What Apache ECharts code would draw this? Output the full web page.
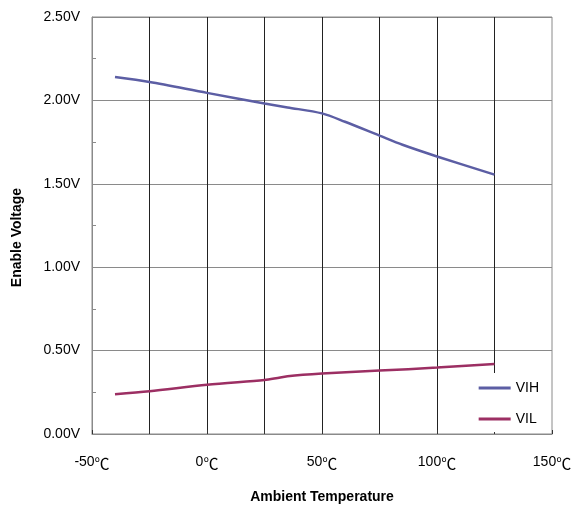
<!DOCTYPE html>
<html>
<head>
<meta charset="utf-8">
<script src="https://cdn.jsdelivr.net/npm/echarts@6/dist/echarts.min.js"></script>
<style>html,body{margin:0;padding:0;background:#fff}#c{width:578px;height:511px}</style>
</head>
<body>
<div id="c"></div>
<script>
var temps   = [-40, -25, 0, 25, 35, 50, 60, 75, 85, 100, 125];
var vihVals = [2.14, 2.11, 2.045, 1.982, 1.958, 1.922, 1.872, 1.789, 1.734, 1.664, 1.555];
var vilTemps = [-40, -25, 0, 25, 30, 35, 50, 75, 100, 125];
var vilVals  = [0.238, 0.256, 0.295, 0.324, 0.334, 0.346, 0.362, 0.380, 0.398, 0.420];
var xTickLabels = {'-50':'-50','0':'0','50':'50','100':'100','150':'150'};
var yTickLabels = {'0':'0.00V','0.5':'0.50V','1':'1.00V','1.5':'1.50V','2':'2.00V','2.5':'2.50V'};

function pairs(xs, ys){ return xs.map(function(x,i){ return [x, ys[i]]; }); }

var chart = echarts.init(document.getElementById('c'));
chart.setOption({
  animation: false,
  textStyle: { fontFamily: 'Liberation Sans, Arial, sans-serif' },
  grid: { left: 92, right: 26, top: 17, bottom: 77, show: true, borderColor: '#8a8a8a', borderWidth: 1 },
  xAxis: {
    type: 'value', min: -50, max: 150, interval: 25,
    name: 'Ambient Temperature', nameLocation: 'middle', nameGap: 56,
    nameTextStyle: { fontWeight: 'bold', fontSize: 14, color: '#000' },
    axisLine: { onZero: false, lineStyle: { color: '#8a8a8a' } },
    axisTick: { show: true, inside: true, length: 4, lineStyle: { color: '#333' } },
    axisLabel: { margin: 19, fontSize: 14, color: '#000',
      formatter: function(v){ var t = xTickLabels[String(v)]; return t ? t + '{c|℃}' : ''; },
      rich: { c: { fontFamily: 'Noto Sans CJK SC', fontSize: 15, color: '#000', padding: [3, 0, 0, 0] } } },
    splitLine: { show: true, showMinLine: false, showMaxLine: false, lineStyle: { color: '#222', width: 1 } }
  },
  yAxis: {
    type: 'value', min: 0, max: 2.5, interval: 0.5,
    name: 'Enable Voltage', nameLocation: 'middle', nameGap: 68,
    nameTextStyle: { fontWeight: 'bold', fontSize: 14, color: '#000', padding: [0, 24, 0, 0] },
    axisLine: { show: true, onZero: false, lineStyle: { color: '#8a8a8a' } },
    axisTick: { show: true, inside: true, length: 4, lineStyle: { color: '#8a8a8a' } },
    minorTick: { show: true, splitNumber: 2, length: 4, lineStyle: { color: '#8a8a8a' } },
    axisLabel: { margin: 12, fontSize: 14, color: '#000',
      formatter: function(v){ return yTickLabels[String(v)] || ''; } },
    splitLine: { show: true, lineStyle: { color: '#8a8a8a', width: 1 } }
  },
  legend: {
    orient: 'vertical', right: 33, bottom: 79,
    backgroundColor: '#fff', padding: [8, 6, 6, 8],
    itemWidth: 32, itemHeight: 3, itemGap: 17, icon: 'rect',
    textStyle: { fontSize: 14, color: '#000' },
    data: ['VIH', 'VIL']
  },
  series: [
    { name: 'VIH', type: 'line', data: pairs(temps, vihVals), smooth: 0.3, symbol: 'none',
      lineStyle: { color: '#5c5ea4', width: 2.5 }, itemStyle: { color: '#5c5ea4' } },
    { name: 'VIL', type: 'line', data: pairs(vilTemps, vilVals), smooth: 0.3, symbol: 'none',
      lineStyle: { color: '#9c2f63', width: 2.5 }, itemStyle: { color: '#9c2f63' } }
  ]
});
</script>
</body>
</html>
